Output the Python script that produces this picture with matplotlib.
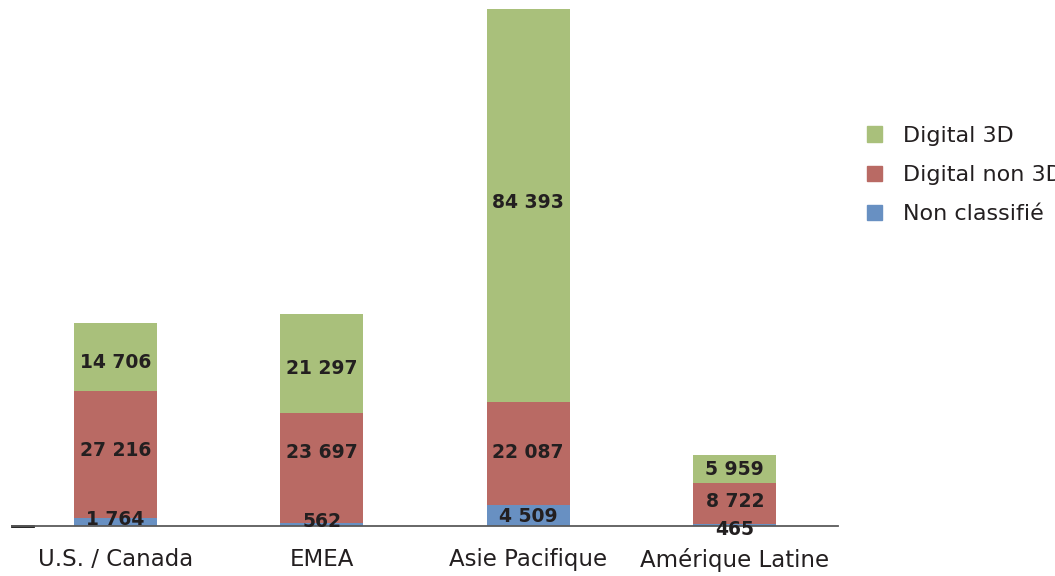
import matplotlib
matplotlib.use("Agg")
import matplotlib.pyplot as plt
from matplotlib.patches import Patch

categories = ["U.S. / Canada", "EMEA", "Asie Pacifique", "Amérique Latine"]
non_classifie = [1764, 562, 4509, 465]
digital_non3d = [27216, 23697, 22087, 8722]
digital_3d = [14706, 21297, 84393, 5959]
series_names = ["Non classifié", "Digital non 3D", "Digital 3D"]
colors = ["#6890C2", "#B96A64", "#A9C07B"]
# label vertical nudges in points, per series then per category
label_offsets = [
    [2, 2.5, -1, -3.6],
    [3, 11.5, 0.5, 1.5],
    [-4, -4, 2, 0],
]

def fmt(v):
    return f"{v:,}".replace(",", " ")

plt.rcParams['font.family'] = ['DejaVu Sans']
fig = plt.figure(figsize=(10.55, 5.76), dpi=100)
ax = fig.add_axes([12/1055, 50/576, 826/1055, 517/576])

x = list(range(len(categories)))
series = [non_classifie, digital_non3d, digital_3d]
bottom = [0]*len(categories)
for si, (vals, c) in enumerate(zip(series, colors)):
    ax.bar(x, vals, width=0.403, bottom=bottom, color=c, linewidth=0)
    for i, v in enumerate(vals):
        off = label_offsets[si][i]
        ax.annotate(fmt(v), (x[i], bottom[i] + v/2), xytext=(0, off),
                    textcoords="offset points", ha="center", va="center",
                    fontsize=13.5, fontweight="bold", color="#231F20")
    bottom = [b + v for b, v in zip(bottom, vals)]

ax.set_xlim(-0.5, 3.5)
ax.set_ylim(0, 110989)
for s in ["top", "right", "left"]:
    ax.spines[s].set_visible(False)
ax.spines["bottom"].set_color("#5a5a5a")
ax.spines["bottom"].set_linewidth(1.3)
ax.axhline(0, xmin=0, xmax=21/826, color="#111111", lw=2.0, clip_on=False)
ax.set_yticks([])
ax.set_xticks(x)
ax.set_xticklabels(categories, fontsize=16.5, color="#231F20")
ax.tick_params(axis="x", length=0, pad=16)

handles = [Patch(color=colors[i]) for i in [2, 1, 0]]
labels = [series_names[i] for i in [2, 1, 0]]
fig.legend(handles, labels, loc="upper left", bbox_to_anchor=(849/1055, 1 - 108/576),
           frameon=False, fontsize=16, handlelength=0.7, handleheight=0.7,
           handletextpad=0.95, labelspacing=0.87, labelcolor="#231F20",
           borderpad=0.3)

fig.savefig("out.png", dpi=100)
